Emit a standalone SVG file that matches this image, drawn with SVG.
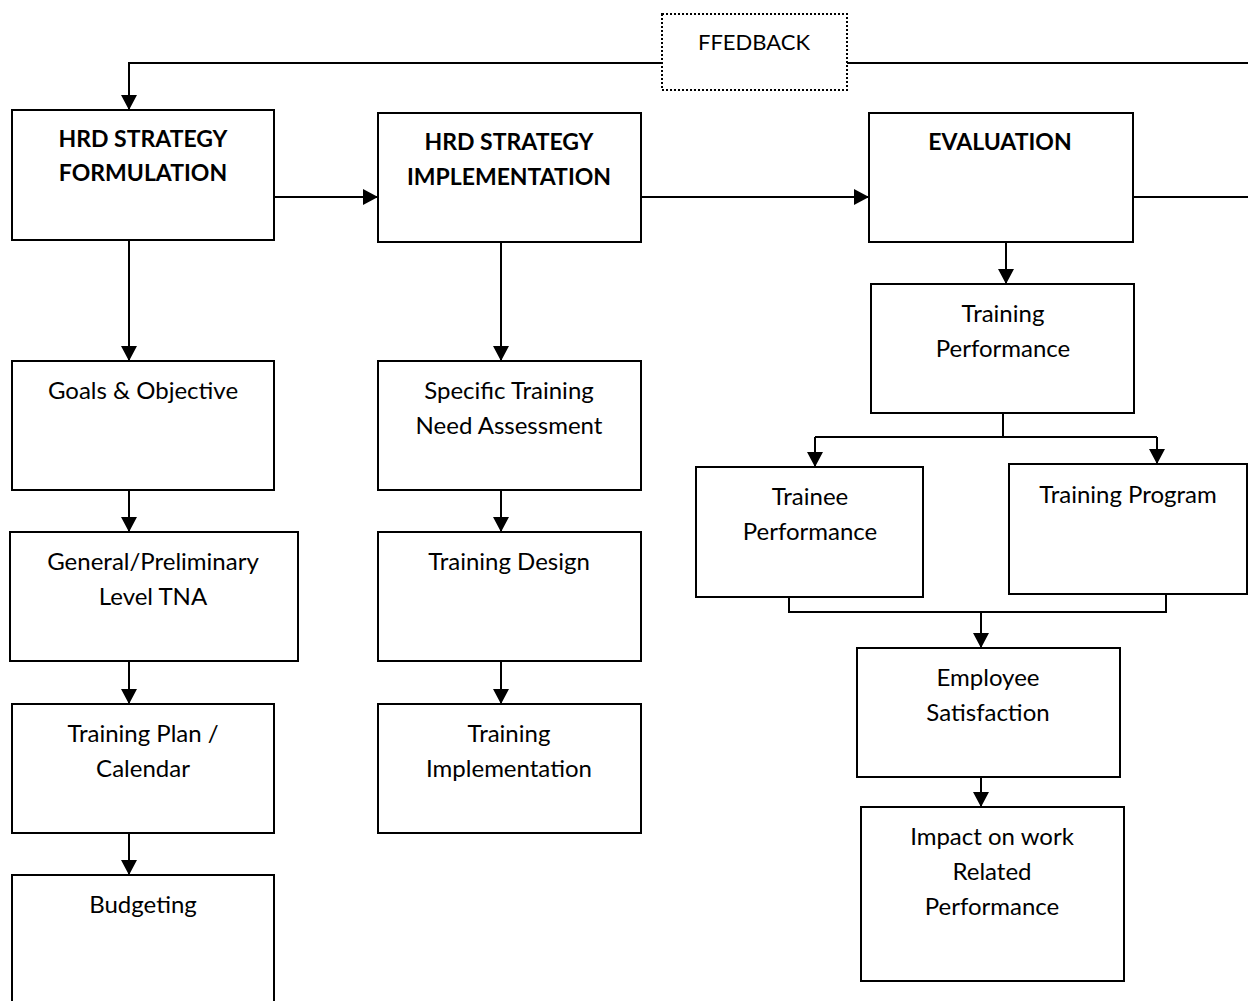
<svg xmlns="http://www.w3.org/2000/svg" width="1248" height="1001" viewBox="0 0 1248 1001">
<style>
.box{fill:#fff;stroke:#000;stroke-width:2}
.fb{fill:#fff;stroke:#000;stroke-width:2;stroke-dasharray:2 2}
.ln{fill:none;stroke:#000;stroke-width:2}
.t{font-family:"Lato","Liberation Sans",sans-serif;font-size:24px;fill:#000;text-anchor:middle;dominant-baseline:central}
.b{font-weight:bold;font-size:23px}
</style>
<defs>
<marker id="ah" markerWidth="15" markerHeight="16" refX="15" refY="8" orient="auto" markerUnits="userSpaceOnUse">
<path d="M0,0 L15,8 L0,16 Z" fill="#000"/>
</marker>
</defs>
<rect width="1248" height="1001" fill="#fff"/>
<g id="connectors">
<path class="ln" d="M662,63 H129 V110" marker-end="url(#ah)"/>
<path class="ln" d="M847,63 H1248"/>
<path class="ln" d="M274,197 H378" marker-end="url(#ah)"/>
<path class="ln" d="M641,197 H869" marker-end="url(#ah)"/>
<path class="ln" d="M1133,197 H1248"/>
<path class="ln" d="M129,240 V361" marker-end="url(#ah)"/>
<path class="ln" d="M129,490 V532" marker-end="url(#ah)"/>
<path class="ln" d="M129,661 V704" marker-end="url(#ah)"/>
<path class="ln" d="M129,833 V875" marker-end="url(#ah)"/>
<path class="ln" d="M501,242 V361" marker-end="url(#ah)"/>
<path class="ln" d="M501,490 V532" marker-end="url(#ah)"/>
<path class="ln" d="M501,661 V704" marker-end="url(#ah)"/>
<path class="ln" d="M1006,242 V284" marker-end="url(#ah)"/>
<path class="ln" d="M1003,413 V437"/>
<path class="ln" d="M815,437 H1157"/>
<path class="ln" d="M815,437 V467" marker-end="url(#ah)"/>
<path class="ln" d="M1157,437 V464" marker-end="url(#ah)"/>
<path class="ln" d="M789,597 V612 H1166 V594"/>
<path class="ln" d="M981,612 V648" marker-end="url(#ah)"/>
<path class="ln" d="M981,777 V807" marker-end="url(#ah)"/>
</g>
<g id="feedback">
<rect class="fb" x="662" y="14" width="185" height="76"/>
<text class="t" x="754" y="41" style="font-size:22px">FFEDBACK</text>
</g>
<g id="formulation">
<rect class="box" x="12" y="110" width="262" height="130"/>
<text class="t b" x="143" y="138">HRD STRATEGY</text>
<text class="t b" x="143" y="172">FORMULATION</text>
</g>
<g id="implementation">
<rect class="box" x="378" y="113" width="263" height="129"/>
<text class="t b" x="509" y="141">HRD STRATEGY</text>
<text class="t b" x="509" y="176">IMPLEMENTATION</text>
</g>
<g id="evaluation">
<rect class="box" x="869" y="113" width="264" height="129"/>
<text class="t b" x="1000" y="141">EVALUATION</text>
</g>
<g id="goals">
<rect class="box" x="12" y="361" width="262" height="129"/>
<text class="t" x="143" y="389">Goals &amp; Objective</text>
</g>
<g id="general-tna">
<rect class="box" x="10" y="532" width="288" height="129"/>
<text class="t" x="153" y="560">General/Preliminary</text>
<text class="t" x="153" y="595">Level TNA</text>
</g>
<g id="training-plan">
<rect class="box" x="12" y="704" width="262" height="129"/>
<text class="t" x="143" y="732">Training Plan /</text>
<text class="t" x="143" y="767">Calendar</text>
</g>
<g id="budgeting">
<rect class="box" x="12" y="875" width="262" height="140"/>
<text class="t" x="143" y="903">Budgeting</text>
</g>
<g id="specific-tna">
<rect class="box" x="378" y="361" width="263" height="129"/>
<text class="t" x="509" y="389">Specific Training</text>
<text class="t" x="509" y="424">Need Assessment</text>
</g>
<g id="training-design">
<rect class="box" x="378" y="532" width="263" height="129"/>
<text class="t" x="509" y="560">Training Design</text>
</g>
<g id="training-implementation">
<rect class="box" x="378" y="704" width="263" height="129"/>
<text class="t" x="509" y="732">Training</text>
<text class="t" x="509" y="767">Implementation</text>
</g>
<g id="training-performance">
<rect class="box" x="871" y="284" width="263" height="129"/>
<text class="t" x="1003" y="312">Training</text>
<text class="t" x="1003" y="347">Performance</text>
</g>
<g id="trainee-performance">
<rect class="box" x="696" y="467" width="227" height="130"/>
<text class="t" x="810" y="495">Trainee</text>
<text class="t" x="810" y="530">Performance</text>
</g>
<g id="training-program">
<rect class="box" x="1009" y="464" width="238" height="130"/>
<text class="t" x="1128" y="493">Training Program</text>
</g>
<g id="employee-satisfaction">
<rect class="box" x="857" y="648" width="263" height="129"/>
<text class="t" x="988" y="676">Employee</text>
<text class="t" x="988" y="711">Satisfaction</text>
</g>
<g id="impact">
<rect class="box" x="861" y="807" width="263" height="174"/>
<text class="t" x="992" y="835">Impact on work</text>
<text class="t" x="992" y="870">Related</text>
<text class="t" x="992" y="905">Performance</text>
</g>
</svg>
